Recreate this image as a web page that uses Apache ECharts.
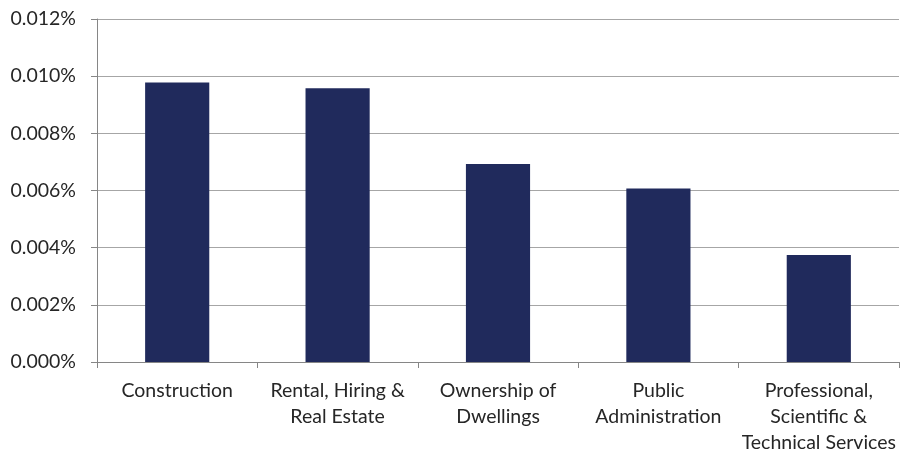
<!DOCTYPE html>
<html>
<head>
<meta charset="utf-8">
<script src="https://cdn.jsdelivr.net/npm/echarts@6/dist/echarts.min.js"></script>
<style>html,body{margin:0;padding:0;background:#fff}#c{width:900px;height:456px}</style>
</head>
<body>
<div id="c"></div>
<script>
const categories = ["Construction", "Rental, Hiring &\nReal Estate", "Ownership of\nDwellings", "Public\nAdministration", "Professional,\nScientific &\nTechnical Services"];
const values = [0.00978, 0.00958, 0.00693, 0.00607, 0.00374];
const yMin = 0, yMax = 0.012, yStep = 0.002;

const chart = echarts.init(document.getElementById('c'), null, {renderer: 'canvas'});
const font = "Lato, 'Open Sans', sans-serif";
chart.setOption({
  animation: false,
  backgroundColor: '#fff',
  grid: {left: 97, right: 1, top: 19, bottom: 90, containLabel: false},
  xAxis: {
    type: 'category',
    data: categories,
    axisLine: {lineStyle: {color: '#868686', width: 1}},
    axisTick: {show: true, length: 6, lineStyle: {color: '#868686'}},
    axisLabel: {color: '#262626', fontSize: 19.5, fontFamily: font, margin: 16, lineHeight: 26, interval: 0}
  },
  yAxis: {
    type: 'value',
    min: yMin, max: yMax, interval: yStep,
    axisLine: {show: true, lineStyle: {color: '#868686', width: 1}},
    axisTick: {show: true, length: 6, lineStyle: {color: '#868686'}},
    splitLine: {lineStyle: {color: '#a6a6a6', width: 1}},
    axisLabel: {color: '#262626', fontSize: 19.5, fontFamily: font, margin: 21,
      formatter: v => v.toFixed(3) + '%'}
  },
  series: [{
    type: 'bar',
    data: values,
    barWidth: '40%',
    itemStyle: {color: '#202a5c'}
  }]
});
</script>
</body>
</html>
